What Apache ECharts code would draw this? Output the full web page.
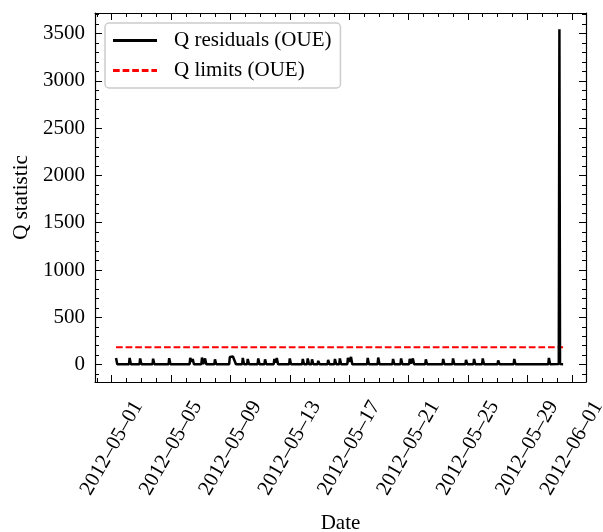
<!DOCTYPE html>
<html>
<head>
<meta charset="utf-8">
<script src="https://cdn.jsdelivr.net/npm/echarts@6/dist/echarts.min.js"></script>
<style>
html,body{margin:0;padding:0;background:#fff;}
#main{width:603px;height:532px;}
</style>
</head>
<body>
<div id="main"></div>
<script>
// Q residuals (time, Q value)
var qResiduals = [
	['2012-05-01 07:00', 70], ['2012-05-01 09:00', 4],
	['2012-05-02 04:00', 4], ['2012-05-02 05:00', 70], ['2012-05-02 07:00', 4],
	['2012-05-02 21:00', 4], ['2012-05-02 22:00', 65], ['2012-05-03 00:00', 4],
	['2012-05-03 18:00', 4], ['2012-05-03 19:00', 62], ['2012-05-03 21:00', 4],
	['2012-05-04 10:00', 4], ['2012-05-04 11:00', 25], ['2012-05-04 13:00', 4],
	['2012-05-04 20:00', 4], ['2012-05-04 21:00', 68], ['2012-05-04 23:00', 4],
	['2012-05-05 10:00', 4], ['2012-05-05 11:00', 20], ['2012-05-05 13:00', 4],
	['2012-05-06 06:00', 4], ['2012-05-06 07:00', 72], ['2012-05-06 09:00', 30], ['2012-05-06 11:00', 60], ['2012-05-06 13:00', 4],
	['2012-05-07 01:00', 4], ['2012-05-07 02:00', 75], ['2012-05-07 04:00', 5], ['2012-05-07 07:00', 65], ['2012-05-07 09:00', 4],
	['2012-05-07 22:00', 4], ['2012-05-07 23:00', 55], ['2012-05-08 01:00', 4],
	['2012-05-08 22:00', 4], ['2012-05-08 23:00', 80], ['2012-05-09 02:00', 70], ['2012-05-09 04:00', 85], ['2012-05-09 07:00', 78], ['2012-05-09 09:00', 4],
	['2012-05-09 19:00', 4], ['2012-05-09 20:00', 70], ['2012-05-09 22:00', 4],
	['2012-05-10 03:00', 4], ['2012-05-10 04:00', 60], ['2012-05-10 06:00', 4],
	['2012-05-10 20:00', 4], ['2012-05-10 21:00', 65], ['2012-05-10 23:00', 4],
	['2012-05-11 07:00', 4], ['2012-05-11 08:00', 55], ['2012-05-11 10:00', 4],
	['2012-05-11 22:00', 4], ['2012-05-11 23:00', 60], ['2012-05-12 01:00', 20], ['2012-05-12 03:00', 70], ['2012-05-12 05:00', 4],
	['2012-05-12 23:00', 4], ['2012-05-13 00:00', 65], ['2012-05-13 02:00', 4],
	['2012-05-13 20:00', 4], ['2012-05-13 21:00', 60], ['2012-05-13 23:00', 4],
	['2012-05-14 04:00', 4], ['2012-05-14 05:00', 65], ['2012-05-14 07:00', 4],
	['2012-05-14 11:00', 4], ['2012-05-14 12:00', 55], ['2012-05-14 14:00', 4],
	['2012-05-14 21:00', 4], ['2012-05-14 22:00', 40], ['2012-05-15 00:00', 4],
	['2012-05-15 13:00', 4], ['2012-05-15 14:00', 50], ['2012-05-15 16:00', 4],
	['2012-05-16 00:00', 4], ['2012-05-16 01:00', 60], ['2012-05-16 03:00', 4],
	['2012-05-16 08:00', 4], ['2012-05-16 09:00', 65], ['2012-05-16 11:00', 4],
	['2012-05-16 21:00', 4], ['2012-05-16 22:00', 70], ['2012-05-17 00:00', 30], ['2012-05-17 03:00', 80], ['2012-05-17 05:00', 4],
	['2012-05-18 05:00', 4], ['2012-05-18 06:00', 70], ['2012-05-18 08:00', 4],
	['2012-05-18 22:00', 4], ['2012-05-18 23:00', 75], ['2012-05-19 01:00', 4],
	['2012-05-19 22:00', 4], ['2012-05-19 23:00', 60], ['2012-05-20 01:00', 4],
	['2012-05-20 11:00', 4], ['2012-05-20 12:00', 65], ['2012-05-20 14:00', 4],
	['2012-05-21 01:00', 4], ['2012-05-21 02:00', 60], ['2012-05-21 04:00', 10], ['2012-05-21 07:00', 65], ['2012-05-21 09:00', 4],
	['2012-05-22 03:00', 4], ['2012-05-22 04:00', 55], ['2012-05-22 06:00', 4],
	['2012-05-23 07:00', 4], ['2012-05-23 08:00', 60], ['2012-05-23 10:00', 4],
	['2012-05-23 23:00', 4], ['2012-05-24 00:00', 65], ['2012-05-24 02:00', 4],
	['2012-05-24 20:00', 4], ['2012-05-24 21:00', 50], ['2012-05-24 23:00', 4],
	['2012-05-25 09:00', 4], ['2012-05-25 10:00', 60], ['2012-05-25 12:00', 4],
	['2012-05-25 23:00', 4], ['2012-05-26 00:00', 65], ['2012-05-26 02:00', 4],
	['2012-05-27 00:00', 4], ['2012-05-27 01:00', 45], ['2012-05-27 03:00', 4],
	['2012-05-28 02:00', 4], ['2012-05-28 03:00', 60], ['2012-05-28 05:00', 4],
	['2012-05-30 10:00', 4], ['2012-05-30 11:00', 70], ['2012-05-30 13:00', 4],
	['2012-05-31 03:00', 5], ['2012-05-31 04:00', 3545], ['2012-05-31 05:00', 5],
	['2012-05-31 10:00', 4]
];
// Q limit (constant)
var qLimits = [['2012-05-01 07:00', 183], ['2012-05-31 10:00', 183]];

var xTickDates = ['2012-05-01','2012-05-05','2012-05-09','2012-05-13','2012-05-17','2012-05-21','2012-05-25','2012-05-29','2012-06-01'];
var xMinorDates = ['2012-04-30','2012-05-01','2012-05-02','2012-05-03','2012-05-04','2012-05-05','2012-05-06','2012-05-07','2012-05-08',
	'2012-05-09','2012-05-10','2012-05-11','2012-05-12','2012-05-13','2012-05-14','2012-05-15','2012-05-16','2012-05-17',
	'2012-05-18','2012-05-19','2012-05-20','2012-05-21','2012-05-22','2012-05-23','2012-05-24','2012-05-25','2012-05-26',
	'2012-05-27','2012-05-28','2012-05-29','2012-05-30','2012-05-31','2012-06-01'];
var yTicks = [0, 500, 1000, 1500, 2000, 2500, 3000, 3500];
var yMinorTicks = [-100,0,100,200,300,400,500,600,700,800,900,1000,1100,1200,1300,1400,1500,1600,1700,1800,1900,2000,
	2100,2200,2300,2400,2500,2600,2700,2800,2900,3000,3100,3200,3300,3400,3500,3600,3700];

var xMinStr = '2012-04-29 21:00', xMaxStr = '2012-06-01 23:00';
var yMin = -184, yMax = 3717;

var fontFam = 'Liberation Serif', fsize = 21, majorLen = 7, minorLen = 4, frameW = 1.2;
// legend swatches (solid / dashed strip)
var iconSolid = 'path://M0,0h44v3h-44z';
var iconDashed = 'path://M0,0h6.7v3h-6.7zM9.6,0h6.7v3h-6.7zM19.2,0h6.7v3h-6.7zM28.8,0h6.7v3h-6.7zM38.4,0h5.6v3h-5.6z';

function ts(s){ return echarts.time.parse(s).getTime(); }
function toPts(arr){ return arr.map(function(p){ return [ts(p[0]), p[1]]; }); }

var xMin = ts(xMinStr), xMax = ts(xMaxStr);
var xMajor = xTickDates.map(ts), xMinor = xMinorDates.map(ts);
var labelMap = {};
xTickDates.forEach(function(d, i){ labelMap[xMajor[i]] = d.replace(/-/g, '\u2013'); });

// x is a plain value axis holding timestamps (time axis + customValues breaks)
function xAx(pos, major, withLabels){
	return {
		type: 'value', position: pos, min: xMin, max: xMax, gridIndex: 0, scale: true,
		splitLine: {show: false},
		axisLine: {show: major, onZero: false, lineStyle: {color: '#000', width: frameW}},
		axisTick: {show: true, inside: true, length: major ? majorLen : minorLen,
			customValues: major ? xMajor : xMinor, lineStyle: {color: '#000', width: 1}},
		axisLabel: withLabels ? {
			show: true, customValues: xMajor, rotate: 60, align: 'center', verticalAlign: 'middle',
			margin: 66, color: '#000', fontFamily: fontFam, fontSize: fsize,
			formatter: function(v){ return labelMap[v] || ''; }
		} : {show: false}
	};
}
function yAx(pos, major, withLabels){
	return {
		type: 'value', position: pos, min: yMin, max: yMax, gridIndex: 0,
		splitLine: {show: false},
		axisLine: {show: major, onZero: false, lineStyle: {color: '#000', width: frameW}},
		axisTick: {show: true, inside: true, length: major ? majorLen : minorLen,
			customValues: major ? yTicks : yMinorTicks, lineStyle: {color: '#000', width: 1}},
		axisLabel: withLabels ? {
			show: true, customValues: yTicks, margin: 10, color: '#000', fontFamily: fontFam, fontSize: fsize,
			formatter: function(v){ return String(v); }
		} : {show: false}
	};
}

var chart = echarts.init(document.getElementById('main'));

var xBottom = xAx('bottom', true, true);
xBottom.name = 'Date';
xBottom.nameLocation = 'middle';
xBottom.nameGap = 131;
xBottom.nameTextStyle = {color: '#000', fontFamily: fontFam, fontSize: fsize};

var yLeft = yAx('left', true, true);
yLeft.name = 'Q statistic';
yLeft.nameLocation = 'middle';
yLeft.nameRotate = 90;
yLeft.nameGap = 62;
yLeft.nameTextStyle = {color: '#000', fontFamily: fontFam, fontSize: fsize};

var option = {
	animation: false,
	backgroundColor: '#fff',
	grid: {left: 95, top: 13, width: 491, height: 369, containLabel: false, outerBoundsMode: 'none'},
	legend: {
		orient: 'vertical', left: 105, top: 23,
		data: [
			{name: 'Q residuals (OUE)', icon: iconSolid},
			{name: 'Q limits (OUE)', icon: iconDashed}
		],
		itemWidth: 44, itemHeight: 3, itemGap: 9,
		padding: [7, 9, 7, 8],
		borderColor: '#cccccc', borderWidth: 1.5, borderRadius: 4,
		backgroundColor: 'rgba(255,255,255,0.8)',
		textStyle: {color: '#000', fontFamily: fontFam, fontSize: fsize, padding: [0, 0, 0, 12]}
	},
	xAxis: [xBottom, xAx('bottom', false, false), xAx('top', true, false), xAx('top', false, false)],
	yAxis: [yLeft, yAx('left', false, false), yAx('right', true, false), yAx('right', false, false)],
	series: [
		{
			name: 'Q residuals (OUE)', type: 'line', symbol: 'none',
			xAxisIndex: 0, yAxisIndex: 0,
			lineStyle: {color: '#000', width: 2.5},
			itemStyle: {color: '#000'},
			data: toPts(qResiduals), z: 3
		},
		{
			name: 'Q limits (OUE)', type: 'line', symbol: 'none',
			xAxisIndex: 0, yAxisIndex: 0,
			lineStyle: {color: '#ff0000', width: 2, type: [6.7, 2.9]},
			itemStyle: {color: '#ff0000'},
			data: toPts(qLimits), z: 2
		}
	]
};
chart.setOption(option);
</script>
</body>
</html>
